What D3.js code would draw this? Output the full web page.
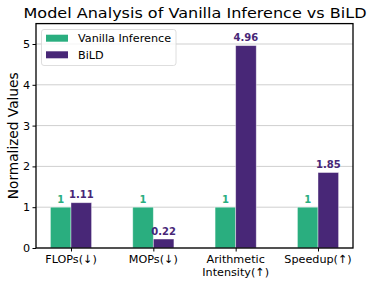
<!DOCTYPE html>
<html><head><meta charset="utf-8">
<script src="https://cdn.jsdelivr.net/npm/d3@7"></script>
<style>
body{margin:0;background:#fff;}
text{font-family:"DejaVu Sans",sans-serif;}
</style></head>
<body>
<svg id="c" width="374" height="283"></svg>
<script>
const categories = ["FLOPs(↓)", "MOPs(↓)", "Arithmetic\nIntensity(↑)", "Speedup(↑)"];
const seriesNames = ["Vanilla Inference", "BiLD"];
const vanilla = [1, 1, 1, 1];
const bild = [1.11, 0.22, 4.96, 1.85];
const yTicks = [0, 1, 2, 3, 4, 5];
const colors = ["#2aae7f", "#482777"];

const svg = d3.select("#c");
const L = 36, R = 353, T = 23.6, B = 248;
const x = d3.scaleLinear().domain([-0.425, 3.425]).range([L, R]);
const y = d3.scaleLinear().domain([0, 5.5]).range([B, T]);
const bw = 0.25;

// grid
svg.append("g").selectAll("line").data(yTicks).join("line")
  .attr("x1", L).attr("x2", R).attr("y1", d => y(d)).attr("y2", d => y(d))
  .attr("stroke", "#cfcfcf").attr("stroke-width", 1);

const series = [vanilla, bild];
series.forEach((vals, si) => {
  const off = si === 0 ? -bw/2 : bw/2;
  const g = svg.append("g");
  g.selectAll("rect").data(vals).join("rect")
    .attr("x", (d, i) => x(i + off - bw/2))
    .attr("width", x(bw) - x(0))
    .attr("y", d => y(d))
    .attr("height", d => y(0) - y(d))
    .attr("fill", colors[si])
    .attr("stroke", "#ffffff").attr("stroke-opacity", 0.5).attr("stroke-width", 0.8);
  g.selectAll("text").data(vals).join("text")
    .attr("x", (d, i) => x(i + off))
    .attr("y", d => y(d) - 4.4)
    .attr("text-anchor", "middle")
    .attr("font-size", 10).attr("font-weight", "bold")
    .attr("fill", colors[si])
    .text(d => d);
});

// axes frame
svg.append("rect").attr("x", L).attr("y", T).attr("width", R - L).attr("height", B - T)
  .attr("fill", "none").attr("stroke", "#000").attr("stroke-width", 1.3);

// y axis
const ya = svg.append("g").attr("transform", `translate(${L},0)`)
  .call(d3.axisLeft(y).tickValues(yTicks).tickFormat(d3.format("d")).tickSize(3.5).tickPadding(2.5));
ya.select(".domain").remove();
ya.selectAll("text").attr("font-size", 11.2).attr("font-family", "DejaVu Sans").attr("fill", "#000");

// x axis
const xa = svg.append("g").attr("transform", `translate(0,${B})`)
  .call(d3.axisBottom(x).tickValues([0,1,2,3]).tickSize(3.5).tickFormat(""));
xa.select(".domain").remove();
categories.forEach((c, i) => {
  const lines = c.split("\n");
  const t = svg.append("text").attr("x", x(i)).attr("y", 263)
    .attr("text-anchor", "middle").attr("font-size", 11.2).attr("fill", "#000");
  lines.forEach((ln, j) => t.append("tspan").attr("x", x(i)).attr("dy", j === 0 ? 0 : 12.8).text(ln));
});

// y label
svg.append("text").attr("transform", `translate(18,${(T+B)/2}) rotate(-90)`)
  .attr("text-anchor", "middle").attr("font-size", 13.7).text("Normalized Values");

// title
svg.append("text").attr("x", (L+R)/2 + 0.5).attr("y", 18).attr("text-anchor", "middle")
  .attr("font-size", 14).attr("textLength", 343).attr("lengthAdjust", "spacingAndGlyphs")
  .text("Model Analysis of Vanilla Inference vs BiLD");

// legend
const lg = svg.append("g");
lg.append("rect").attr("x", 41.5).attr("y", 29.5).attr("width", 134.5).attr("height", 36).attr("rx", 2.5)
  .attr("fill", "#fff").attr("fill-opacity", 0.8).attr("stroke", "#d6d6d6").attr("stroke-width", 0.8);
seriesNames.forEach((n, i) => {
  lg.append("rect").attr("x", 46).attr("y", 34.7 + i*16.6).attr("width", 22).attr("height", 7)
    .attr("fill", colors[i]);
  lg.append("text").attr("x", 78).attr("y", 42.3 + i*16.6).attr("font-size", 11.2).text(n);
});
</script>
</body></html>
